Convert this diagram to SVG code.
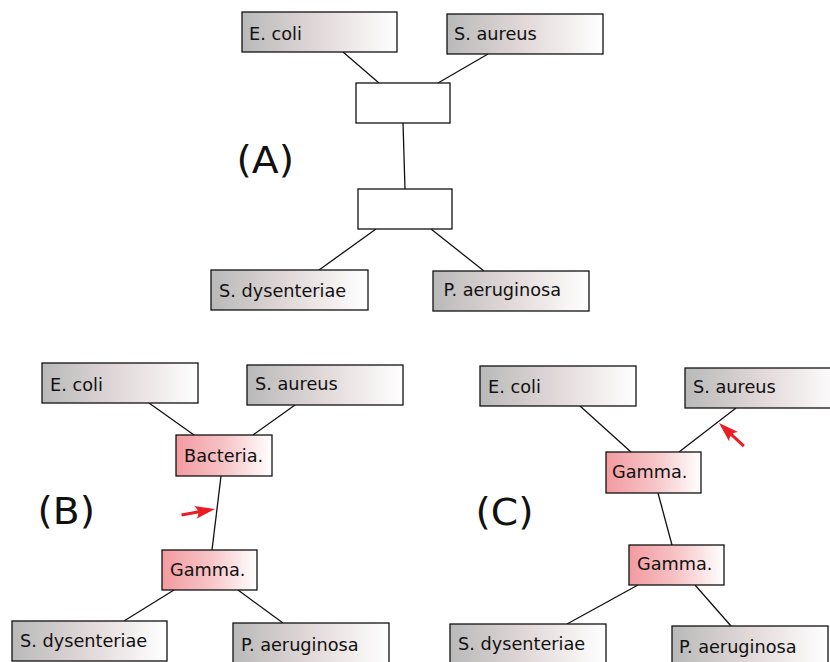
<svg xmlns="http://www.w3.org/2000/svg" width="830" height="662" viewBox="0 0 830 662">
  <defs>
    <linearGradient id="leafFill" x1="0" y1="0" x2="1" y2="0">
      <stop offset="0" stop-color="#b9b9b9"/>
      <stop offset="0.5" stop-color="#e2d9d9"/>
      <stop offset="1" stop-color="#ffffff"/>
    </linearGradient>
    <linearGradient id="cladeFill" x1="0" y1="0" x2="1" y2="0">
      <stop offset="0" stop-color="#f29ba0"/>
      <stop offset="0.5" stop-color="#f7c3c6"/>
      <stop offset="1" stop-color="#ffffff"/>
    </linearGradient>
    <g id="redArrow">
      <line x1="-34" y1="0" x2="-12" y2="0" stroke="#ec1c24" stroke-width="3"/>
      <path d="M0,0 L-20,-6.5 Q-14,0 -20,6.5 Z" fill="#ec1c24"/>
    </g>
  </defs>
  <style>
    .leaf { fill: url(#leafFill); stroke: #111; stroke-width: 1.3; }
    .clade { fill: url(#cladeFill); stroke: #111; stroke-width: 1.3; }
    .empty { fill: #ffffff; stroke: #111; stroke-width: 1.3; }
    .lbl { font-family: "DejaVu Sans", sans-serif; font-size: 17.7px; fill: #111; }
    .panel { font-family: "DejaVu Sans", sans-serif; font-size: 37px; fill: #111; }
    .edges line { stroke: #111; stroke-width: 1.3; }
  </style>

  <!-- Panel A: unlabelled internal nodes -->
  <g id="panelA">
    <g class="edges" id="edgesA">
      <line x1="343" y1="52" x2="379" y2="83"/>
      <line x1="488" y1="54" x2="438" y2="83"/>
      <line x1="403" y1="123" x2="405" y2="189"/>
      <line x1="376" y1="229" x2="319" y2="270"/>
      <line x1="431" y1="229" x2="484" y2="271"/>
    </g>
    <g id="a-ecoli"><rect class="leaf" x="242" y="12" width="155" height="40"/><text class="lbl" x="249" y="40">E. coli</text></g>
    <g id="a-saureus"><rect class="leaf" x="447" y="14" width="156" height="40"/><text class="lbl" x="454" y="39.5">S. aureus</text></g>
    <g id="a-inner1"><rect class="empty" x="356" y="83" width="94" height="40"/></g>
    <g id="a-inner2"><rect class="empty" x="358" y="189" width="94" height="40"/></g>
    <g id="a-sdys"><rect class="leaf" x="211" y="270" width="157" height="40"/><text class="lbl" x="219" y="296.5">S. dysenteriae</text></g>
    <g id="a-paer"><rect class="leaf" x="433" y="271" width="156" height="40"/><text class="lbl" x="443.5" y="295.5">P. aeruginosa</text></g>
    <text class="panel" x="236.5" y="172.5" textLength="57.5" lengthAdjust="spacingAndGlyphs">(A)</text>
  </g>

  <!-- Panel B -->
  <g id="panelB">
    <g class="edges" id="edgesB">
      <line x1="149" y1="403" x2="194" y2="435"/>
      <line x1="295" y1="405" x2="253" y2="435"/>
      <line x1="221" y1="476" x2="212" y2="550"/>
      <line x1="174" y1="590" x2="124" y2="621"/>
      <line x1="238" y1="590" x2="283" y2="623"/>
    </g>
    <g id="b-ecoli"><rect class="leaf" x="42" y="363" width="156" height="40"/><text class="lbl" x="50" y="390.5">E. coli</text></g>
    <g id="b-saureus"><rect class="leaf" x="247" y="365" width="156" height="40"/><text class="lbl" x="255" y="390">S. aureus</text></g>
    <g id="b-bacteria"><rect class="clade" x="176" y="435" width="96" height="41"/><text class="lbl" x="184" y="462">Bacteria.</text></g>
    <g id="b-gamma"><rect class="clade" x="162" y="550" width="95" height="40"/><text class="lbl" x="170" y="576">Gamma.</text></g>
    <g id="b-sdys"><rect class="leaf" x="12" y="621" width="155" height="40"/><text class="lbl" x="20" y="647">S. dysenteriae</text></g>
    <g id="b-paer"><rect class="leaf" x="233" y="623" width="156" height="40"/><text class="lbl" x="241" y="651">P. aeruginosa</text></g>
    <text class="panel" x="37.5" y="523.5" textLength="57.5" lengthAdjust="spacingAndGlyphs">(B)</text>
    <use href="#redArrow" transform="translate(215,509) rotate(-10)"/>
  </g>

  <!-- Panel C -->
  <g id="panelC">
    <g class="edges" id="edgesC">
      <line x1="580" y1="406" x2="631" y2="452"/>
      <line x1="736" y1="408" x2="679" y2="452"/>
      <line x1="658" y1="493" x2="672" y2="545"/>
      <line x1="638" y1="585" x2="567" y2="624"/>
      <line x1="695" y1="585" x2="731" y2="626"/>
    </g>
    <g id="c-ecoli"><rect class="leaf" x="480" y="366" width="156" height="40"/><text class="lbl" x="488" y="393">E. coli</text></g>
    <g id="c-saureus"><rect class="leaf" x="685" y="368" width="156" height="40"/><text class="lbl" x="693" y="393">S. aureus</text></g>
    <g id="c-gamma1"><rect class="clade" x="606" y="452" width="95" height="41"/><text class="lbl" x="612" y="478">Gamma.</text></g>
    <g id="c-gamma2"><rect class="clade" x="629" y="545" width="95" height="40"/><text class="lbl" x="637" y="570">Gamma.</text></g>
    <g id="c-sdys"><rect class="leaf" x="450" y="624" width="156" height="40"/><text class="lbl" x="458" y="650">S. dysenteriae</text></g>
    <g id="c-paer"><rect class="leaf" x="672" y="626" width="156" height="40"/><text class="lbl" x="679" y="653">P. aeruginosa</text></g>
    <text class="panel" x="475.5" y="525" textLength="58" lengthAdjust="spacingAndGlyphs">(C)</text>
    <use href="#redArrow" transform="translate(719,423) rotate(223)"/>
  </g>
</svg>
